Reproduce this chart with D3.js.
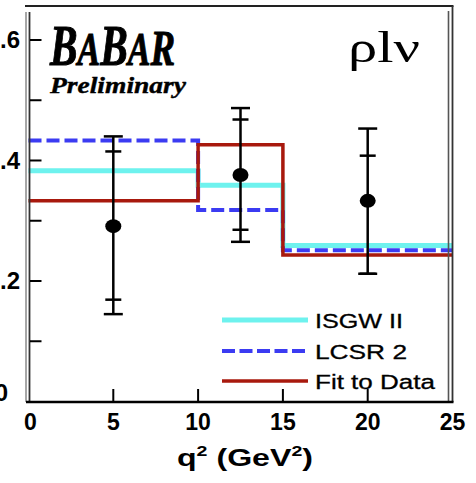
<!DOCTYPE html>
<html>
<head>
<meta charset="UTF-8">
<title>rho l nu q2 spectrum</title>
<script src="https://cdn.jsdelivr.net/npm/d3@7.8.5/dist/d3.min.js"></script>
<style>
  * { margin: 0; padding: 0; }
  body { background: #fff; width: 476px; height: 483px; overflow: hidden; }
  svg text { font-family: 'Liberation Sans', Arial, sans-serif; }
</style>
</head>
<body>
<div id="chart"></div>
<script>
// histogram bins (q2 in GeV2)
const binEdges = [0, 10, 15, 25];
const isgw = [0.383, 0.359, 0.259];
const lcsr = [0.433, 0.318, 0.251];
const fitData = [0.333, 0.426, 0.243];

// data points
const ptX = [5, 12.5, 20];
const ptY = [0.291, 0.376, 0.333];
const statHi = [0.415, 0.468, 0.408];
const statLo = [0.169, 0.285, 0.212];
const totHi = [0.440, 0.487, 0.453];
const totLo = [0.145, 0.265, 0.212];

const xTicks = [0, 5, 10, 15, 20, 25];
const yMajor = [0, 0.2, 0.4, 0.6];
const yMinor = [0.1, 0.2, 0.3, 0.4, 0.5, 0.6];

const legendItems = [
  { name: 'ISGW II', key: 'isgw' },
  { name: 'LCSR 2', key: 'lcsr' },
  { name: 'Fit to Data', key: 'fit' }
];

const colors = { isgw: '#6ef2ee', lcsr: '#3b3bf2', fit: '#a8190d' };

const W = 476, H = 483;
const svg = d3.select('#chart').append('svg').attr('width', W).attr('height', H);
svg.append('rect').attr('width', W).attr('height', H).attr('fill', '#fff');

const x = d3.scaleLinear().domain([0, 25]).range([28.5, 452.5]);
const y = d3.scaleLinear().domain([0, 0.6564]).range([401.5, 6]);

// histograms as steps
const step = d3.line().x(d => x(d[0])).y(d => y(d[1])).curve(d3.curveStepAfter);
function histPts(vals) {
  const p = vals.map((v, i) => [binEdges[i], v]);
  p.push([binEdges[binEdges.length - 1], vals[vals.length - 1]]);
  return p;
}
svg.append('path').attr('d', step(histPts(isgw))).attr('fill', 'none')
  .attr('stroke', colors.isgw).attr('stroke-width', 5);
svg.append('path').attr('d', step(histPts(lcsr))).attr('fill', 'none')
  .attr('stroke', colors.lcsr).attr('stroke-width', 4).attr('stroke-dasharray', '13,5');
svg.append('path').attr('d', step(histPts(fitData))).attr('fill', 'none')
  .attr('stroke', colors.fit).attr('stroke-width', 3.5);

// error bars + points
const pts = ptX.map((v, i) => ({ x: v, y: ptY[i], sh: statHi[i], sl: statLo[i], th: totHi[i], tl: totLo[i] }));
const eb = svg.append('g').attr('stroke', '#000').attr('stroke-width', 2.5);
pts.forEach(d => {
  eb.append('line').attr('x1', x(d.x)).attr('x2', x(d.x)).attr('y1', y(d.th)).attr('y2', y(d.tl));
  [d.th, d.tl].forEach(v => eb.append('line')
    .attr('x1', x(d.x) - 9.5).attr('x2', x(d.x) + 9.5).attr('y1', y(v)).attr('y2', y(v)));
  [d.sh, d.sl].forEach(v => eb.append('line')
    .attr('x1', x(d.x) - 8).attr('x2', x(d.x) + 8).attr('y1', y(v)).attr('y2', y(v)));
});
svg.selectAll('.pt').data(pts).enter().append('ellipse')
  .attr('cx', d => x(d.x)).attr('cy', d => y(d.y))
  .attr('rx', 8).attr('ry', 7).attr('fill', '#000');

// frame
const fr = svg.append('g');
fr.append('line').attr('x1', 25).attr('x2', 453.5).attr('y1', 6).attr('y2', 6)
  .attr('stroke', '#222').attr('stroke-width', 2);
fr.append('line').attr('x1', 26).attr('x2', 26).attr('y1', 12).attr('y2', 402)
  .attr('stroke', '#888').attr('stroke-width', 1.5);
fr.append('line').attr('x1', 29.5).attr('x2', 29.5).attr('y1', 12).attr('y2', 402)
  .attr('stroke', '#333').attr('stroke-width', 1.8);
fr.append('line').attr('x1', 448.5).attr('x2', 448.5).attr('y1', 11).attr('y2', 402)
  .attr('stroke', '#555').attr('stroke-width', 1.6);
fr.append('line').attr('x1', 452.5).attr('x2', 452.5).attr('y1', 6).attr('y2', 402)
  .attr('stroke', '#333').attr('stroke-width', 1.8);
fr.append('line').attr('x1', 26).attr('x2', 453.5).attr('y1', 402).attr('y2', 402)
  .attr('stroke', '#000').attr('stroke-width', 2.5);

// ticks
svg.append('g').selectAll('line').data(yMinor).enter().append('line')
  .attr('x1', 30).attr('x2', 41.5).attr('y1', d => y(d)).attr('y2', d => y(d))
  .attr('stroke', '#000').attr('stroke-width', 2);
svg.append('g').selectAll('line').data(xTicks.slice(1, -1)).enter().append('line')
  .attr('x1', d => x(d)).attr('x2', d => x(d)).attr('y1', 389).attr('y2', 402)
  .attr('stroke', '#000').attr('stroke-width', 2);

// tick labels
svg.append('g').selectAll('text').data(xTicks).enter().append('text')
  .attr('x', d => x(d) + (d === 0 ? 2 : 0)).attr('y', 430)
  .attr('text-anchor', 'middle').attr('font-size', 23).attr('font-weight', 'bold')
  .text(d => d);
svg.append('g').selectAll('text').data(yMajor).enter().append('text')
  .attr('x', d => d === 0 ? 8 : 20).attr('y', d => y(d) + (d === 0 ? -1 : 8.5))
  .attr('text-anchor', 'end').attr('font-size', 24).attr('font-weight', 'bold')
  .text(d => d === 0 ? '0' : d3.format('.1f')(d));

// axis title
const xt = svg.append('text').attr('x', 177).attr('y', 466)
  .attr('font-size', 23).attr('font-weight', 'bold')
  .attr('textLength', 136).attr('lengthAdjust', 'spacingAndGlyphs');
xt.append('tspan').text('q');
xt.append('tspan').attr('dy', -10).attr('font-size', 14).text('2');
xt.append('tspan').attr('dy', 10).text(' (GeV');
xt.append('tspan').attr('dy', -10).attr('font-size', 14).text('2');
xt.append('tspan').attr('dy', 10).text(')');

// legend
const legY = [320, 351, 381];
const leg = svg.append('g');
legendItems.forEach((it, i) => {
  const ln = leg.append('line').attr('x1', 222).attr('x2', 308)
    .attr('y1', legY[i]).attr('y2', legY[i]).attr('stroke', colors[it.key]);
  if (it.key === 'isgw') ln.attr('stroke-width', 5);
  if (it.key === 'lcsr') ln.attr('stroke-width', 4).attr('stroke-dasharray', '13,4.5');
  if (it.key === 'fit') ln.attr('stroke-width', 3.5);
  leg.append('text').attr('x', 315).attr('y', legY[i] + 7.5)
    .attr('font-size', 20).attr('font-weight', 500)
    .attr('stroke', '#000').attr('stroke-width', 0.3)
    .attr('textLength', [88, 92, 120][i]).attr('lengthAdjust', 'spacingAndGlyphs')
    .text(it.name);
});

// BABAR logo
const logo = svg.append('text').attr('x', 50).attr('y', 65)
  .attr('font-style', 'italic').attr('font-weight', 'bold')
  .attr('stroke', '#000').attr('stroke-width', 1)
  .style('font-family', "'Liberation Serif', 'DejaVu Serif', serif")
  .attr('textLength', 125).attr('lengthAdjust', 'spacingAndGlyphs');
[['B', 56], ['A', 46], ['B', 56], ['A', 46], ['R', 50]].forEach(p =>
  logo.append('tspan').attr('font-size', p[1]).text(p[0]));

svg.append('text').attr('x', 50).attr('y', 93)
  .attr('font-style', 'italic').attr('font-weight', 'bold').attr('font-size', 24)
  .attr('stroke', '#000').attr('stroke-width', 0.4)
  .style('font-family', "'Liberation Serif', 'DejaVu Serif', serif")
  .attr('textLength', 136).attr('lengthAdjust', 'spacingAndGlyphs')
  .text('Preliminary');

// channel label
svg.append('text').attr('x', 348).attr('y', 62)
  .attr('font-size', 44)
  .style('font-family', "'Liberation Serif', 'DejaVu Serif', serif")
  .attr('textLength', 72).attr('lengthAdjust', 'spacingAndGlyphs')
  .text('ρlν');
</script>
</body>
</html>
